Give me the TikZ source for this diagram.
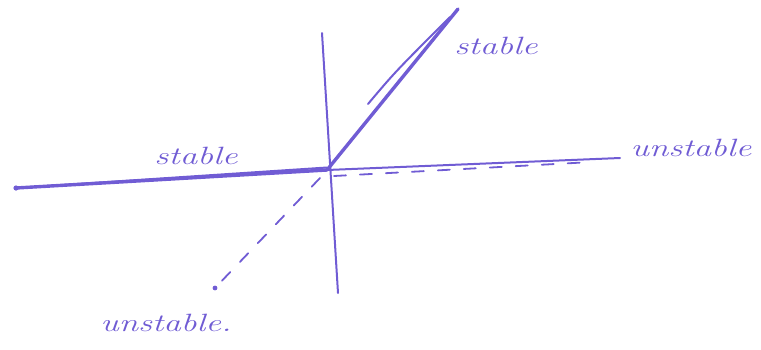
\documentclass[tikz,border=0pt]{standalone}
\usepackage{fontspec}
\definecolor{pen}{RGB}{112,92,212}
\tikzset{
  penline/.style={draw=pen, line width=2pt, line cap=round},
  thickpen/.style={draw=pen, line width=3.4pt, line cap=round},
  dashpen/.style={draw=pen, line width=1.8pt, dash pattern=on 12pt off 14pt, line cap=round},
  lbl/.style={text=pen, font=\itshape\fontsize{25}{25}\selectfont, inner sep=0pt, xscale=1.4},
}
\begin{document}
\begin{tikzpicture}[x=1pt,y=-1pt]
\useasboundingbox (0,0) rectangle (761,349);
% coordinates
\coordinate (O) at (327,170);
\coordinate (vtop) at (322,33);
\coordinate (vbot) at (338,293);
\coordinate (sTop) at (458,9);
\coordinate (sTop2a) at (368,104);
\coordinate (sTop2b) at (450,17);
\coordinate (sLeft) at (16,188);
\coordinate (uRight) at (620,158);
\coordinate (dStart) at (334,176);
\coordinate (dEnd) at (592,162);
\coordinate (dgStart) at (320,178);
\coordinate (dgEnd) at (215,288);
% axes
\draw[penline] (vtop) -- (vbot);
% stable branches
\draw[thickpen] (O) -- (sTop);
\draw[penline] (sTop2a) .. controls (395,72) .. (sTop2b);
\draw[thickpen] (sLeft) -- (O);
\draw[penline] (sLeft) -- ([yshift=2.5pt]O);
\fill[pen] (sLeft) circle (2.6pt);
% unstable branches
\draw[penline] (O) -- (uRight);
\draw[dashpen] (dStart) -- (dEnd);
\draw[dashpen] (dgStart) -- (dgEnd);
\fill[pen] (dgEnd) circle (2.4pt);
% labels
\node[lbl] (l1) at (496,46) {stable};
\node[lbl] (l2) at (196,156) {stable};
\node[lbl] (l3) at (691,148) {unstable};
\node[lbl] (l4) at (166,323) {unstable.};
\end{tikzpicture}
\end{document}
